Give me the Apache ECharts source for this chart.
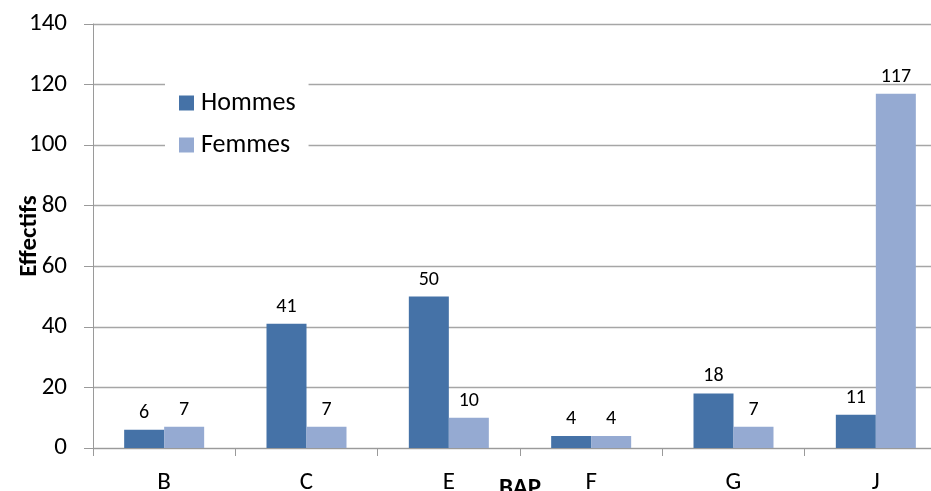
<!DOCTYPE html>
<html><head><meta charset="utf-8">
<script src="https://cdn.jsdelivr.net/npm/echarts@6/dist/echarts.min.js"></script>
<style>html,body{margin:0;padding:0;background:#fff}#c{width:931px;height:491px}</style>
</head><body><div id="c"></div>
<script>
const categories = ['B', 'C', 'E', 'F', 'G', 'J'];
const hommes = [6, 41, 50, 4, 18, 11];
const femmes = [7, 7, 10, 4, 7, 117];
const yTicks = [0, 20, 40, 60, 80, 100, 120, 140];

const chart = echarts.init(document.getElementById('c'), null, {renderer: 'canvas'});
const font = 'Carlito, Calibri, Lato, "Liberation Sans", sans-serif';
const lbl = {show: true, position: 'top', distance: 7, color: '#000', fontSize: 20, fontFamily: font};
chart.setOption({
  animation: false,
  textStyle: {fontFamily: font},
  grid: {left: 93, right: -16, top: 24, bottom: 43, containLabel: false, outerBoundsMode: 'none'},
  legend: {
    left: 165, top: 78, orient: 'vertical',
    backgroundColor: '#fff', padding: [12, 13, 12, 14], itemGap: 16,
    itemWidth: 15, itemHeight: 15, icon: 'rect',
    textStyle: {fontSize: 26, color: '#000', fontFamily: font, padding: [0, 0, 0, 2]},
    data: ['Hommes', 'Femmes']
  },
  xAxis: {
    type: 'category', data: categories,
    name: 'BAP', nameLocation: 'middle', nameGap: 28, nameMoveOverlap: false,
    nameTextStyle: {fontSize: 25, fontWeight: 'bold', color: '#000', fontFamily: font},
    axisLine: {lineStyle: {color: '#9a9a9a', width: 1}},
    axisTick: {show: true, length: 8, lineStyle: {color: '#9a9a9a'}},
    axisLabel: {fontSize: 25, color: '#000', margin: 22, fontFamily: font}
  },
  yAxis: {
    type: 'value', min: 0, max: 140, interval: 20,
    name: 'Effectifs', nameLocation: 'middle', nameGap: 51, nameRotate: 90, nameMoveOverlap: false,
    nameTextStyle: {fontSize: 25, fontWeight: 'bold', color: '#000', fontFamily: font},
    axisLine: {show: true, lineStyle: {color: '#9a9a9a'}},
    axisTick: {show: true, length: 9, lineStyle: {color: '#9a9a9a'}},
    splitLine: {lineStyle: {color: '#a6a6a6', width: 1.3}},
    axisLabel: {fontSize: 25, color: '#000', margin: 26, fontFamily: font,
      formatter: v => yTicks.includes(v) ? String(v) : ''}
  },
  series: [
    {name: 'Hommes', type: 'bar', data: hommes, barWidth: 40, barGap: '0%',
     itemStyle: {color: '#4572a7'}, label: lbl, z: 3},
    {name: 'Femmes', type: 'bar', data: femmes, barWidth: 40,
     itemStyle: {color: '#95aad2'}, label: lbl, z: 3}
  ]
});
</script></body></html>
